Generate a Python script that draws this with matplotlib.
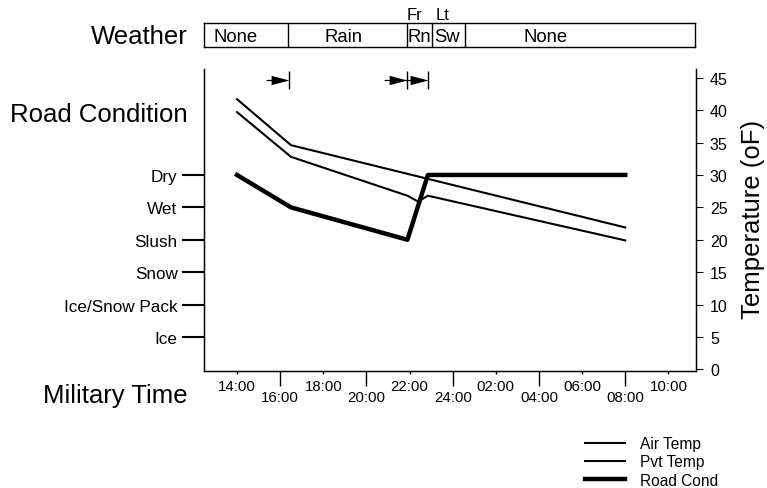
import matplotlib
matplotlib.use('Agg')
import matplotlib.pyplot as plt
from matplotlib.path import Path
from matplotlib.lines import Line2D

plt.rcParams['font.family'] = ['Liberation Sans', 'DejaVu Sans']

# ---------------- data ----------------
# time in hours (24 = midnight, 34 = 10:00 next day)
air_times = [14.0, 16.5, 32.0]
air_temp = [41.7, 34.6, 21.9]

pvt_times = [14.0, 16.5, 21.9, 22.4, 22.85, 32.0]
pvt_temp = [39.7, 32.8, 26.8, 25.9, 26.8, 19.9]

road_levels = ['Ice', 'Ice/Snow Pack', 'Snow', 'Slush', 'Wet', 'Dry']
road_level_temp = [5, 10, 15, 20, 25, 30]
road_times = [14.0, 16.5, 21.9, 22.85, 32.0]
road_cond = ['Dry', 'Wet', 'Slush', 'Dry', 'Dry']

temp_ticks = [0, 5, 10, 15, 20, 25, 30, 35, 40, 45]

major_times = [16, 20, 24, 28, 32]
major_labels = ['16:00', '20:00', '24:00', '04:00', '08:00']
minor_times = [14, 18, 22, 26, 30, 34]
minor_labels = ['14:00', '18:00', '22:00', '02:00', '06:00', '10:00']

weather_bounds = [16.35, 21.88, 23.08, 24.58]
weather_labels = ['None', 'Rain', 'Rn', 'Sw', 'None']
weather_label_times = [13.93, 18.94, 22.48, 23.75, 28.32]
weather_top_labels = ['Fr', 'Lt']
weather_top_times = [22.27, 23.57]

event_times = [16.4, 21.88, 22.84]

# ---------------- figure ----------------
W, H = 767, 489
fig = plt.figure(figsize=(W / 100, H / 100), dpi=100)


def fx(px):
    return px / W


def fy(py):
    return 1 - py / H


XLIM = (12.47, 35.28)
YLIM = (-0.25, 46.35)

ax = fig.add_axes([fx(204), fy(372), fx(696) - fx(204), fy(70) - fy(372)])
ax.set_xlim(*XLIM)
ax.set_ylim(*YLIM)
ax.spines['top'].set_visible(False)
for s in ['left', 'right', 'bottom']:
    ax.spines[s].set_linewidth(1.0)

l_air, = ax.plot(air_times, air_temp, color='black', lw=1.5)
l_pvt, = ax.plot(pvt_times, pvt_temp, color='black', lw=1.5)
road_y = [road_level_temp[road_levels.index(c)] for c in road_cond]
l_road, = ax.plot(road_times, road_y, color='black', lw=3.2)

# left axis: road condition
ax.set_yticks(road_level_temp, road_levels)
ax.tick_params(axis='y', which='major', direction='out', length=16, width=1.5,
               pad=3, labelsize=12.3)

# bottom axis
ax.set_xticks(major_times, major_labels)
ax.set_xticks(minor_times, minor_labels, minor=True)
ax.tick_params(axis='x', which='major', direction='out', length=11, width=1,
               pad=3, labelsize=10.8)
ax.tick_params(axis='x', which='minor', direction='out', length=2.5, width=1,
               pad=3, labelsize=10.8)

# right axis: temperature
axr = ax.twinx()
axr.set_ylim(*YLIM)
axr.set_yticks(temp_ticks)
axr.tick_params(axis='y', direction='out', length=5, width=0.8, pad=5,
                labelsize=11.5)
axr.spines['top'].set_visible(False)

# event arrows
verts = [(0, 0), (-1, 0.26), (-1, -0.26), (0, 0),
         (-1, 0.035), (-1.28, 0.035), (-1.28, -0.035), (-1, -0.035), (-1, 0.035)]
codes = [Path.MOVETO, Path.LINETO, Path.LINETO, Path.CLOSEPOLY,
         Path.MOVETO, Path.LINETO, Path.LINETO, Path.LINETO, Path.CLOSEPOLY]
arrow_marker = Path(verts, codes)
arrow_y = 44.6
for t in event_times:
    ax.plot([t], [arrow_y], marker=arrow_marker, markersize=33, color='black',
            markeredgewidth=0, clip_on=False)
    ax.plot([t], [arrow_y], marker='|', markersize=13.5, markeredgewidth=1,
            color='black', clip_on=False)

# weather bar
axw = fig.add_axes([fx(204), fy(47.7), fx(695) - fx(204), fy(24) - fy(47.7)])
axw.set_xlim(*XLIM)
axw.set_ylim(0, 1)
axw.set_xticks([])
axw.set_yticks([])
for s in axw.spines.values():
    s.set_linewidth(1.0)
for b in weather_bounds:
    axw.axvline(b, color='black', lw=1.0)
for t, lab in zip(weather_label_times, weather_labels):
    axw.text(t, 0.45, lab, ha='center', va='center', fontsize=13.3)
for t, lab in zip(weather_top_times, weather_top_labels):
    axw.text(t, 1.34, lab, ha='center', va='center', fontsize=12)

# big labels
fig.text(fx(188), fy(37), 'Weather', ha='right', va='center', fontsize=18.5)
fig.text(fx(188), fy(115), 'Road Condition', ha='right', va='center', fontsize=18.5)
fig.text(fx(188), fy(396), 'Military Time', ha='right', va='center', fontsize=18.5)
fig.text(fx(753), fy(219), 'Temperature (oF)', ha='center', va='center',
         rotation=90, fontsize=18.5)

# legend
handles = [Line2D([], [], color='black', lw=1.5),
           Line2D([], [], color='black', lw=1.5),
           Line2D([], [], color='black', lw=3.2)]
fig.legend(handles, ['Air Temp', 'Pvt Temp', 'Road Cond'], loc='upper left',
           bbox_to_anchor=(fx(585), fy(437)), frameon=False, fontsize=11.2,
           handlelength=2.55, handletextpad=1.0, labelspacing=0.22,
           borderpad=0, borderaxespad=0)

fig.savefig('out.png', dpi=100)
